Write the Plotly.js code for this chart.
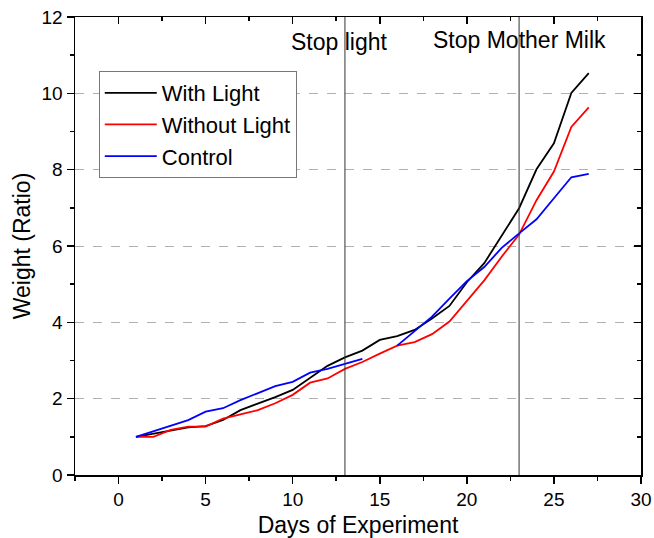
<!DOCTYPE html>
<html>
<head>
<meta charset="utf-8">
<script src="https://cdn.plot.ly/plotly-3.0.1.min.js"></script>
<style>html,body{margin:0;padding:0;background:#fff;}#chart{width:654px;height:538px;}</style>
</head>
<body>
<div id="chart"></div>
<script>
const days = [1,2,3,4,5,6,7,8,9,10,11,12,13,14,15,16,17,18,19,20,21,22,23,24,25,26,27];
const withLight = [1.00,1.09,1.18,1.25,1.28,1.44,1.70,1.86,2.04,2.23,2.55,2.86,3.08,3.26,3.54,3.64,3.80,4.10,4.43,5.05,5.55,6.28,6.99,8.01,8.69,10.01,10.53];
const withoutLight = [1.00,1.00,1.18,1.27,1.27,1.48,1.59,1.70,1.88,2.10,2.42,2.53,2.78,2.96,3.18,3.39,3.48,3.69,4.02,4.55,5.10,5.72,6.30,7.20,7.95,9.12,9.63];
const control = [1.00,1.15,1.31,1.44,1.66,1.75,1.96,2.14,2.33,2.44,2.68,2.78,2.90,3.04,null,3.39,3.78,4.15,4.62,5.08,5.45,5.95,6.33,6.70,7.25,7.80,7.89];
const seriesNames = ["With Light","Without Light","Control"];
const seriesColors = ["#000000","#ff0000","#0000ff"];
const eventDays = [13,23];
const eventLabels = ["Stop light","Stop Mother Milk"];
const eventLabelX = [12.7,23.05];
const eventLabelY = [11.35,11.4];

const FONT = "Liberation Sans, Arial, sans-serif";
const seriesData = [withLight, withoutLight, control];
// the Control series sits on the twin (top/right) axes, which share the exact same ranges,
// so that the inward mirrored ticks on the top and right are drawn
const traces = seriesData.map((ys,i)=>{
  const t = {x: days, y: ys, type: "scatter", mode: "lines", name: seriesNames[i],
    line: {color: seriesColors[i], width: 1.8}, connectgaps: false};
  if (i === 2) { t.xaxis = "x2"; t.yaxis = "y2"; }
  return t;
});

const shapes = eventDays.map(d=>({
  type:"line", xref:"x", yref:"y", x0:d, x1:d, y0:0, y1:12,
  line:{color:"#333", width:1}
}));
const annotations = eventLabels.map((t,i)=>({
  text:t, x:eventLabelX[i], y:eventLabelY[i], xref:"x", yref:"y",
  showarrow:false, font:{family:FONT, size:23, color:"#000"}
}));

const XR = [-2.5,30], YR = [0,12];
const tickCommon = {tickwidth:1.5, tickcolor:"#000"};
const layout = {
  width:654, height:538,
  margin:{l:75, r:13, t:17, b:63},
  paper_bgcolor:"#fff", plot_bgcolor:"#fff",
  font:{family:FONT, color:"#000"},
  showlegend:true,
  legend:{x:0.042, y:0.882, xanchor:"left", yanchor:"top",
    bgcolor:"#fff", bordercolor:"#777", borderwidth:1, itemwidth:52,
    font:{family:FONT, size:22}, tracegroupgap:0, traceorder:"normal"},
  xaxis:Object.assign({range:XR, tick0:0, dtick:5, ticks:"outside", ticklen:7,
    showline:true, linecolor:"#000", linewidth:1.5, mirror:true,
    showgrid:false, zeroline:false,
    minor:{dtick:2.5, ticks:"outside", ticklen:4, tickwidth:1.5, tickcolor:"#000", showgrid:false},
    tickfont:{family:FONT, size:19},
    title:{text:"Days of Experiment", font:{family:FONT, size:23}, standoff:8}}, tickCommon),
  yaxis:Object.assign({range:YR, tick0:0, dtick:2, ticks:"outside", ticklen:7,
    showline:true, linecolor:"#000", linewidth:1.5, mirror:true,
    showgrid:true, gridcolor:"#b0b0b0", griddash:"dash", gridwidth:1, zeroline:false,
    minor:{dtick:1, ticks:"outside", ticklen:4, tickwidth:1.5, tickcolor:"#000", showgrid:false},
    tickfont:{family:FONT, size:19},
    title:{text:"Weight (Ratio)", font:{family:FONT, size:23}, standoff:4}}, tickCommon),
  xaxis2:Object.assign({overlaying:"x", side:"top", anchor:"y2", range:XR, tick0:0, dtick:5,
    ticks:"inside", ticklen:7, showticklabels:false,
    showgrid:false, zeroline:false, showline:false,
    minor:{dtick:2.5, ticks:"inside", ticklen:4, tickwidth:1.5, tickcolor:"#000", showgrid:false}}, tickCommon),
  yaxis2:Object.assign({overlaying:"y", side:"right", anchor:"x2", range:YR, tick0:0, dtick:2,
    ticks:"inside", ticklen:7, showticklabels:false,
    showgrid:false, zeroline:false, showline:false,
    minor:{dtick:1, ticks:"inside", ticklen:4, tickwidth:1.5, tickcolor:"#000", showgrid:false}}, tickCommon),
  shapes: shapes,
  annotations: annotations
};

Plotly.newPlot("chart", traces, layout, {displayModeBar:false, staticPlot:true});
</script>
</body>
</html>
